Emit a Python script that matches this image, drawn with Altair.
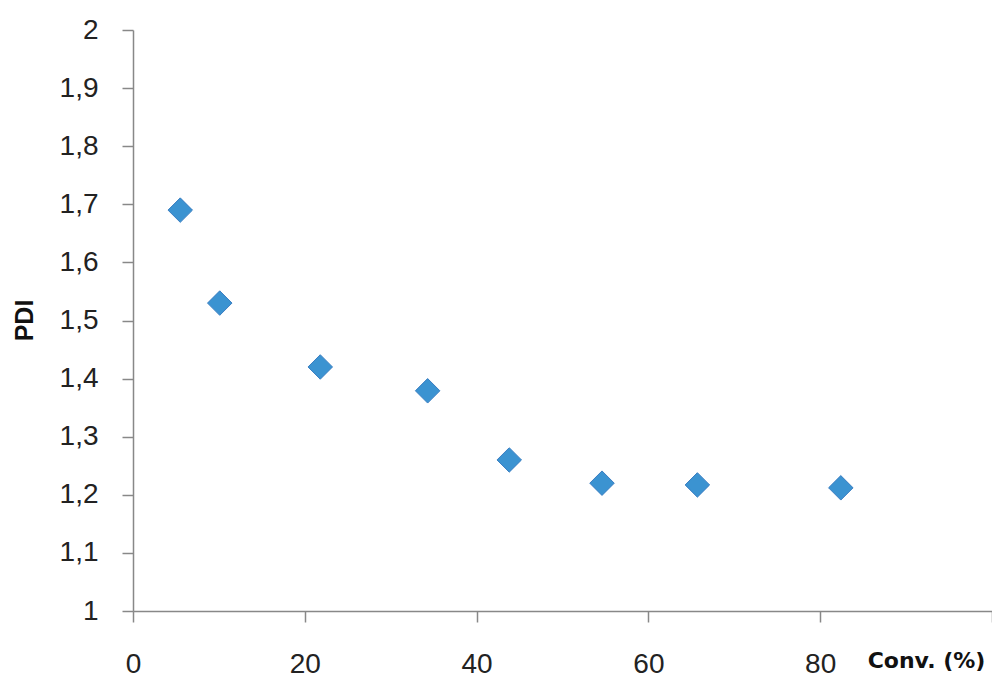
import altair as alt
import pandas as pd

conv = [5.5, 10.1, 21.8, 34.3, 43.8, 54.6, 65.7, 82.4]
pdi = [1.69, 1.53, 1.42, 1.379, 1.26, 1.22, 1.217, 1.212]

x_ticks = [0, 20, 40, 60, 80, 100]
y_ticks = [1.0, 1.1, 1.2, 1.3, 1.4, 1.5, 1.6, 1.7, 1.8, 1.9, 2.0]

df = pd.DataFrame({"conv": conv, "pdi": pdi})

FONT = "Liberation Sans"

chart = alt.Chart(df).mark_point(
    shape="diamond", filled=True, size=600, fill="#3B93D1",
    stroke="#3A7EC2", strokeWidth=1, opacity=1
).encode(
    x=alt.X("conv:Q", scale=alt.Scale(domain=[0, 100], nice=False, zero=False),
            axis=alt.Axis(values=x_ticks, title="Conv. (%)",
                          labelExpr="datum.value == 100 ? '' : datum.label",
                          grid=False, domainColor="#888888", tickColor="#888888",
                          domainWidth=1.5, tickWidth=1.5, tickSize=11,
                          labelFont=FONT, labelFontSize=28, labelColor="#222222",
                          labelPadding=28, labelFlush=False,
                          titleFont="DejaVu Sans", titleFontSize=22, titleFontWeight="bold",
                          titleColor="#111111", titleX=793, titleY=49,
                          titleAlign="center", titleBaseline="middle", titleAnchor="start")),
    y=alt.Y("pdi:Q", scale=alt.Scale(domain=[1, 2], nice=False, zero=False),
            axis=alt.Axis(values=y_ticks, title="PDI",
                          labelExpr="replace(format(datum.value, '.1~f'), '.', ',')",
                          grid=False, domainColor="#888888", tickColor="#888888",
                          domainWidth=1.5, tickWidth=1.5, tickSize=11,
                          labelFont=FONT, labelFontSize=28, labelColor="#222222",
                          labelPadding=24, labelFlush=False,
                          titleFont=FONT, titleFontSize=25, titleFontWeight="bold",
                          titleColor="#111111", titleX=-101, titleY=290,
                          titleAngle=270, titleAlign="center", titleBaseline="alphabetic",
                          titleAnchor="start")),
).properties(
    width=859, height=581,
    autosize=alt.AutoSizeParams(type="none"),
    padding={"left": 125, "top": 22, "right": 0, "bottom": 68},
    background="white",
).configure_view(stroke=None)

chart.save("out.html", embed_options={"renderer": "svg", "actions": False})
